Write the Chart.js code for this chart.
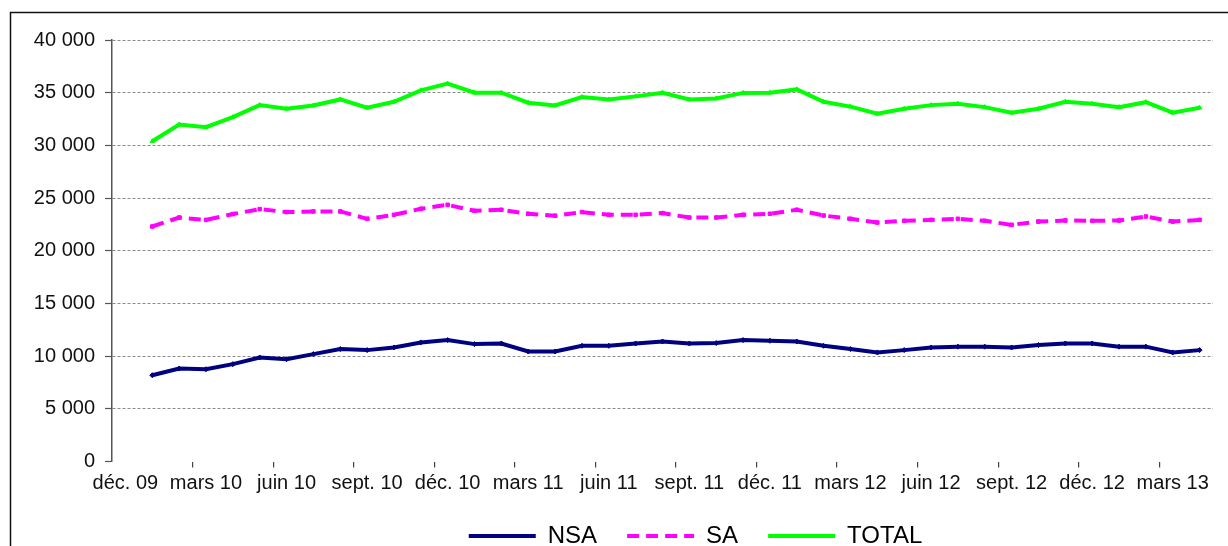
<!DOCTYPE html>
<html lang="fr">
<head>
<meta charset="utf-8">
<title>NSA / SA / TOTAL</title>
<script src="https://cdn.jsdelivr.net/npm/chart.js@4/dist/chart.umd.min.js"></script>
<style>
  html, body { margin: 0; padding: 0; background: #fff; }
  #wrap { position: relative; width: 1228px; height: 546px; }
</style>
</head>
<body>
<div id="wrap"><canvas id="chart"></canvas></div>
<script>
/* catégories mensuelles : déc. 09 -> avr. 13 (la première n'a pas de valeur) */
const MONTHS = [
  'déc. 09',
  'janv. 10', 'févr. 10', 'mars 10', 'avr. 10', 'mai 10', 'juin 10',
  'juil. 10', 'août 10', 'sept. 10', 'oct. 10', 'nov. 10', 'déc. 10',
  'janv. 11', 'févr. 11', 'mars 11', 'avr. 11', 'mai 11', 'juin 11',
  'juil. 11', 'août 11', 'sept. 11', 'oct. 11', 'nov. 11', 'déc. 11',
  'janv. 12', 'févr. 12', 'mars 12', 'avr. 12', 'mai 12', 'juin 12',
  'juil. 12', 'août 12', 'sept. 12', 'oct. 12', 'nov. 12', 'déc. 12',
  'janv. 13', 'févr. 13', 'mars 13', 'avr. 13'
];

/* séries : janv. 10 -> avr. 13 */
const NSA = [8190, 8820, 8760, 9240, 9870, 9710, 10190, 10670, 10570, 10820,
  11300, 11520, 11140, 11200, 10440, 10440, 10980, 10980, 11200, 11390,
  11200, 11240, 11520, 11460, 11390, 10980, 10670, 10350, 10570, 10820,
  10900, 10900, 10820, 11050, 11200, 11200, 10900, 10900, 10350, 10570];
const SA = [22300, 23150, 22930, 23480, 23950, 23670, 23730, 23730, 23030, 23410,
  23980, 24360, 23790, 23890, 23510, 23320, 23670, 23410, 23410, 23570,
  23150, 23150, 23410, 23510, 23890, 23340, 23030, 22680, 22840, 22930,
  23030, 22840, 22460, 22770, 22870, 22840, 22870, 23250, 22770, 22930];
const TOTAL = [30390, 31980, 31725, 32680, 33820, 33480, 33790, 34360, 33570, 34140,
  35220, 35860, 35000, 35000, 34050, 33790, 34580, 34360, 34650, 35000,
  34360, 34450, 34980, 35000, 35310, 34140, 33680, 33000, 33480, 33820,
  33950, 33630, 33100, 33480, 34140, 33950, 33630, 34100, 33100, 33570];

const Y_MIN = 0, Y_MAX = 40000, Y_STEP = 5000;

const FONT = "'Liberation Sans', Arial, sans-serif";

function fmtNum(v) {
  return String(v).replace(/\B(?=(\d{3})+(?!\d))/g, ' ');
}

/* cadre + décalage de la légende */
const framePlugin = {
  id: 'frame',
  afterLayout(chart) {
    const lg = chart.legend;
    if (!lg) return;
    lg.left += 89; lg.right += 89;
  },
  beforeDraw(chart) {
    const ctx = chart.ctx;
    ctx.save();
    ctx.fillStyle = '#fff';
    ctx.fillRect(0, 0, chart.width, chart.height);
    ctx.strokeStyle = '#111';
    ctx.lineWidth = 1.5;
    ctx.beginPath();
    ctx.moveTo(10.5, chart.height);
    ctx.lineTo(10.5, 12.5);
    ctx.lineTo(chart.width, 12.5);
    ctx.stroke();
    ctx.restore();
  }
};

function series(label, values, color, style, dash) {
  return {
    label,
    data: [null].concat(values),
    borderColor: color,
    backgroundColor: color,
    borderWidth: 4,
    borderDash: dash || [],
    pointStyle: style,
    pointRadius: 2.5,
    pointBorderWidth: 1,
    tension: 0,
    spanGaps: false,
  };
}

new Chart(document.getElementById('chart'), {
  type: 'line',
  data: {
    labels: MONTHS,
    datasets: [
      series('NSA', NSA, '#000080', 'rectRot'),
      series('SA', SA, '#ff00ff', 'rect', [12, 7]),
      series('TOTAL', TOTAL, '#00ff00', 'triangle'),
    ]
  },
  options: {
    responsive: true,
    maintainAspectRatio: false,
    animation: false,
    layout: { padding: { left: 0, right: 15, top: 40, bottom: -12 } },
    plugins: {
      tooltip: { enabled: false },
      legend: {
        position: 'bottom',
        labels: {
          usePointStyle: true,
          pointStyle: 'line',
          pointStyleWidth: 67,
          padding: 30,
          color: '#111',
          font: { family: FONT, size: 24 },
          generateLabels(chart) {
            return chart.data.datasets.map((ds, i) => ({
              text: ds.label,
              datasetIndex: i,
              fillStyle: ds.borderColor,
              strokeStyle: ds.borderColor,
              lineWidth: ds.borderWidth,
              lineDash: ds.borderDash,
              pointStyle: 'line',
              hidden: false,
            }));
          },
        },
      },
    },
    scales: {
      x: {
        type: 'category',
        offset: true,
        border: { display: false },
        grid: {
          offset: true,
          drawOnChartArea: false,
          drawTicks: true,
          tickLength: 6,
          lineWidth: 1.2,
          color: ctx => (ctx.tick && ctx.index > 0 && ctx.index % 3 === 0) ? '#444' : 'rgba(0,0,0,0)',
        },
        ticks: {
          autoSkip: false,
          maxRotation: 0,
          minRotation: 0,
          padding: 4,
          color: '#111',
          font: { family: FONT, size: 20 },
          callback: function (val, i) { return i % 3 === 0 ? this.getLabelForValue(val) : ''; },
        },
        afterFit: s => { s.height = 32.5; },
      },
      y: {
        min: Y_MIN,
        max: Y_MAX,
        border: { display: true, color: '#555', width: 1.5, dash: [3, 2] },
        grid: {
          color: ctx => ctx.tick && ctx.tick.value === 0 ? 'rgba(0,0,0,0)' : '#8a8a8a',
          lineWidth: 1,
          drawTicks: true,
          tickLength: 7,
          tickColor: '#555',
          tickBorderDash: [],
          tickWidth: 1.2,
        },
        ticks: {
          stepSize: Y_STEP,
          padding: 10,
          color: '#111',
          font: { family: FONT, size: 20 },
          callback: v => fmtNum(v),
        },
        afterFit: s => { s.width = 112; },
      },
    },
  },
  plugins: [framePlugin],
});
</script>
</body>
</html>
